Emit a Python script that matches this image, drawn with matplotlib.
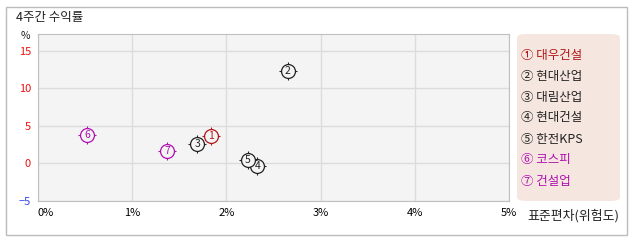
import matplotlib
matplotlib.use("Agg")
import matplotlib.pyplot as plt
from matplotlib.patches import FancyBboxPatch, Rectangle

plt.rcParams["font.family"] = ["Noto Sans CJK KR", "DejaVu Sans"]
plt.rcParams["axes.unicode_minus"] = True

# ── data ──────────────────────────────────────────────
names   = ["대우건설", "현대산업", "대림산업", "현대건설", "한전KPS", "코스피", "건설업"]
marks   = ["①", "②", "③", "④", "⑤", "⑥", "⑦"]
std_dev = [1.84, 2.65, 1.69, 2.33, 2.23, 0.52, 1.37]   # %, x
returns = [3.7, 12.3, 2.6, -0.3, 0.4, 3.8, 1.6]        # %, y
colors  = ["#b01818", "#222222", "#222222", "#222222", "#222222", "#b010b0", "#b010b0"]

x_ticks = [0, 1, 2, 3, 4, 5]
y_ticks = [-5, 0, 5, 10, 15]

W, H = 638, 242
fig = plt.figure(figsize=(W / 100, H / 100), dpi=100)

# outer frame
fig.patches.append(Rectangle((6 / W, 1 - 235 / H), 621 / W, 228 / H,
                             transform=fig.transFigure, fill=False,
                             edgecolor="#bbbbbb", linewidth=1))

ax = fig.add_axes([38 / W, 1 - 201 / H, (509 - 38) / W, (201 - 34) / H])
ax.set_facecolor("#f4f4f4")
ax.set_xlim(0, 5)
ax.set_ylim(-5, 17.2)
ax.set_xticks(x_ticks)
ax.set_yticks(y_ticks)
ax.grid(True, color="#dcdcdc", linewidth=1)
ax.set_axisbelow(True)
for s in ax.spines.values():
    s.set_color("#c0c0c0")
ax.tick_params(length=0, labelsize=8, pad=5)
ax.set_xticklabels([f"{v}%" for v in x_ticks])
ax.set_yticklabels(["\u2212" + str(-v) if v < 0 else str(v) for v in y_ticks])
for lab, v in zip(ax.get_yticklabels(), y_ticks):
    lab.set_color("#3344ee" if v < 0 else "#ee1111")
ax.get_xticklabels()[0].set_horizontalalignment("left")

# ── points ────────────────────────────────────────────
for x, y, m, c in zip(std_dev, returns, range(1, 8), colors):
    ax.plot(x, y, marker="+", markersize=13, color=c, markeredgewidth=0.8)
    ax.plot(x, y, marker="o", markersize=10, markerfacecolor="#f4f4f4",
            markeredgecolor=c, markeredgewidth=0.9)
    ax.text(x, y, str(m), color=c, fontsize=7.5, ha="center", va="center")

# ── texts ─────────────────────────────────────────────
fig.text(16 / W, 1 - 18 / H, "4주간 수익률", fontsize=9, va="center", color="#222")
fig.text(25 / W, 1 - 36 / H, "%", fontsize=7.5, va="center", ha="center", color="#222")
fig.text(527 / W, 1 - 216 / H, "표준편차(위험도)", fontsize=9.3, va="center", color="#222")

# ── legend box ────────────────────────────────────────
fig.patches.append(FancyBboxPatch((517 / W, 1 - 201 / H), 103 / W, 167 / H,
                                  boxstyle="round,pad=0,rounding_size=0.015",
                                  transform=fig.transFigure,
                                  facecolor="#f5e7e0", edgecolor="none"))
for i, (mk, nm, c) in enumerate(zip(marks, names, colors)):
    fig.text(521 / W, 1 - (55 + i * 21) / H, f"{mk} {nm}", fontsize=9,
             va="center", color=c)

fig.savefig("out.png", dpi=100)
